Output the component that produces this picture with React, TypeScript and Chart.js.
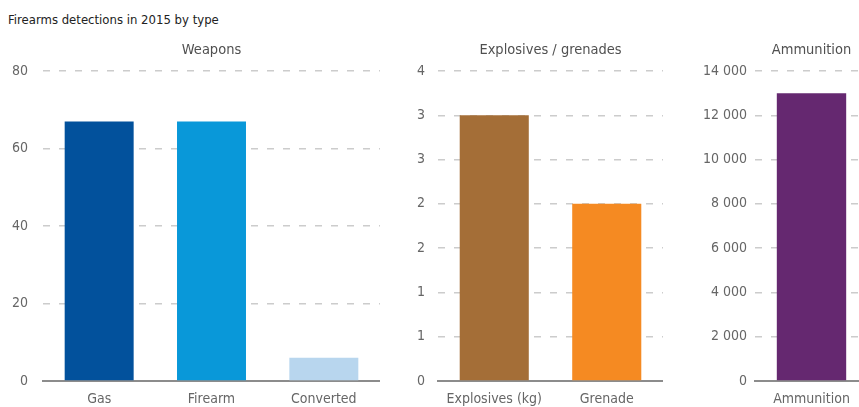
import React, { useEffect, useRef } from "react";
import { Chart, registerables } from "chart.js";

Chart.register(...registerables);

const FONT = '"Liberation Sans Narrow", "DejaVu Sans Condensed", "Roboto Condensed", sans-serif';

const subtitle = "Firearms detections in 2015 by type";

const weaponLabels = ["Gas", "Firearm", "Converted"];
const weaponValues = [67, 67, 6];
const weaponColors = ["#02519c", "#0998d9", "#b8d6ee"];

const explosiveLabels = ["Explosives (kg)", "Grenade"];
const explosiveValues = [3, 2];
const explosiveColors = ["#a46e37", "#f58a22"];

const ammoLabels = ["Ammunition"];
const ammoValues = [13000];
const ammoColors = ["#652870"];

const CANVAS_H = 420;
const AREA_BOTTOM = 381;

type PanelProps = {
  left: number;
  width: number;
  axisWidth: number;
  tickPad: number;
  title: string;
  labels: string[];
  values: number[];
  colors: string[];
  max: number;
  step: number;
  fmt: (v: number) => string;
};

function Panel(p: PanelProps) {
  const ref = useRef<HTMLCanvasElement | null>(null);
  useEffect(() => {
    if (!ref.current) return;
    const chart = new Chart(ref.current, {
      type: "bar",
      data: {
        labels: p.labels,
        datasets: [
          {
            data: p.values,
            backgroundColor: p.colors,
            borderWidth: 0,
            categoryPercentage: 0.614,
            barPercentage: 1,
          },
        ],
      },
      options: {
        responsive: false,
        animation: false,
        devicePixelRatio: 1,
        layout: { padding: 0 },
        plugins: {
          legend: { display: false },
          tooltip: { enabled: false },
          title: {
            display: true,
            text: p.title,
            fullSize: false,
            color: "#505050",
            font: { family: FONT, size: 14.5, weight: "normal", lineHeight: 1.2 },
            padding: { top: 42, bottom: 11.6 },
          },
        },
        scales: {
          x: {
            grid: { display: false, drawTicks: false },
            border: { display: true, color: "#8c8c8c", width: 2 },
            ticks: {
              color: "#666666",
              font: { family: FONT, size: 14 },
              padding: 10,
              maxRotation: 0,
              autoSkip: false,
            },
            afterFit: (s: any) => {
              s.height = CANVAS_H - AREA_BOTTOM;
            },
          },
          y: {
            min: 0,
            max: p.max,
            border: { display: false, dash: [7, 9] },
            grid: {
              drawTicks: false,
              lineWidth: 1.5,
              color: (c: any) => (c.tick && c.tick.value === 0 ? "rgba(0,0,0,0)" : "#cccccc"),
            },
            ticks: {
              stepSize: p.step,
              color: "#666666",
              font: { family: FONT, size: 14 },
              padding: p.tickPad,
              callback: (v: any) => p.fmt(Number(v)),
            },
            afterFit: (s: any) => {
              s.width = p.axisWidth;
            },
          },
        },
      },
    });
    return () => chart.destroy();
  }, []);
  return (
    <canvas
      ref={ref}
      width={p.width}
      height={CANVAS_H}
      style={{ position: "absolute", left: p.left, top: 0, width: p.width, height: CANVAS_H }}
    />
  );
}

const fmtInt = (v: number) => String(Math.round(v));
const fmtThousands = (v: number) =>
  String(Math.round(v)).replace(/\B(?=(\d{3})+(?!\d))/g, " ");

export default function App() {
  return (
    <div
      style={{
        position: "fixed",
        left: 0,
        top: 0,
        width: 859,
        height: 407,
        overflow: "hidden",
        background: "#ffffff",
      }}
    >
      <div
        style={{
          position: "absolute",
          left: 8,
          top: 12,
          fontFamily: FONT,
          fontSize: 13,
          color: "#222222",
          whiteSpace: "nowrap",
        }}
      >
        {subtitle}
      </div>
      <Panel
        left={0}
        width={380}
        axisWidth={43}
        tickPad={15}
        title="Weapons"
        labels={weaponLabels}
        values={weaponValues}
        colors={weaponColors}
        max={80}
        step={20}
        fmt={fmtInt}
      />
      <Panel
        left={390}
        width={273}
        axisWidth={48}
        tickPad={13}
        title="Explosives / grenades"
        labels={explosiveLabels}
        values={explosiveValues}
        colors={explosiveColors}
        max={3.5}
        step={0.5}
        fmt={fmtInt}
      />
      <Panel
        left={690}
        width={178}
        axisWidth={65}
        tickPad={8}
        title="Ammunition"
        labels={ammoLabels}
        values={ammoValues}
        colors={ammoColors}
        max={14000}
        step={2000}
        fmt={fmtThousands}
      />
    </div>
  );
}
